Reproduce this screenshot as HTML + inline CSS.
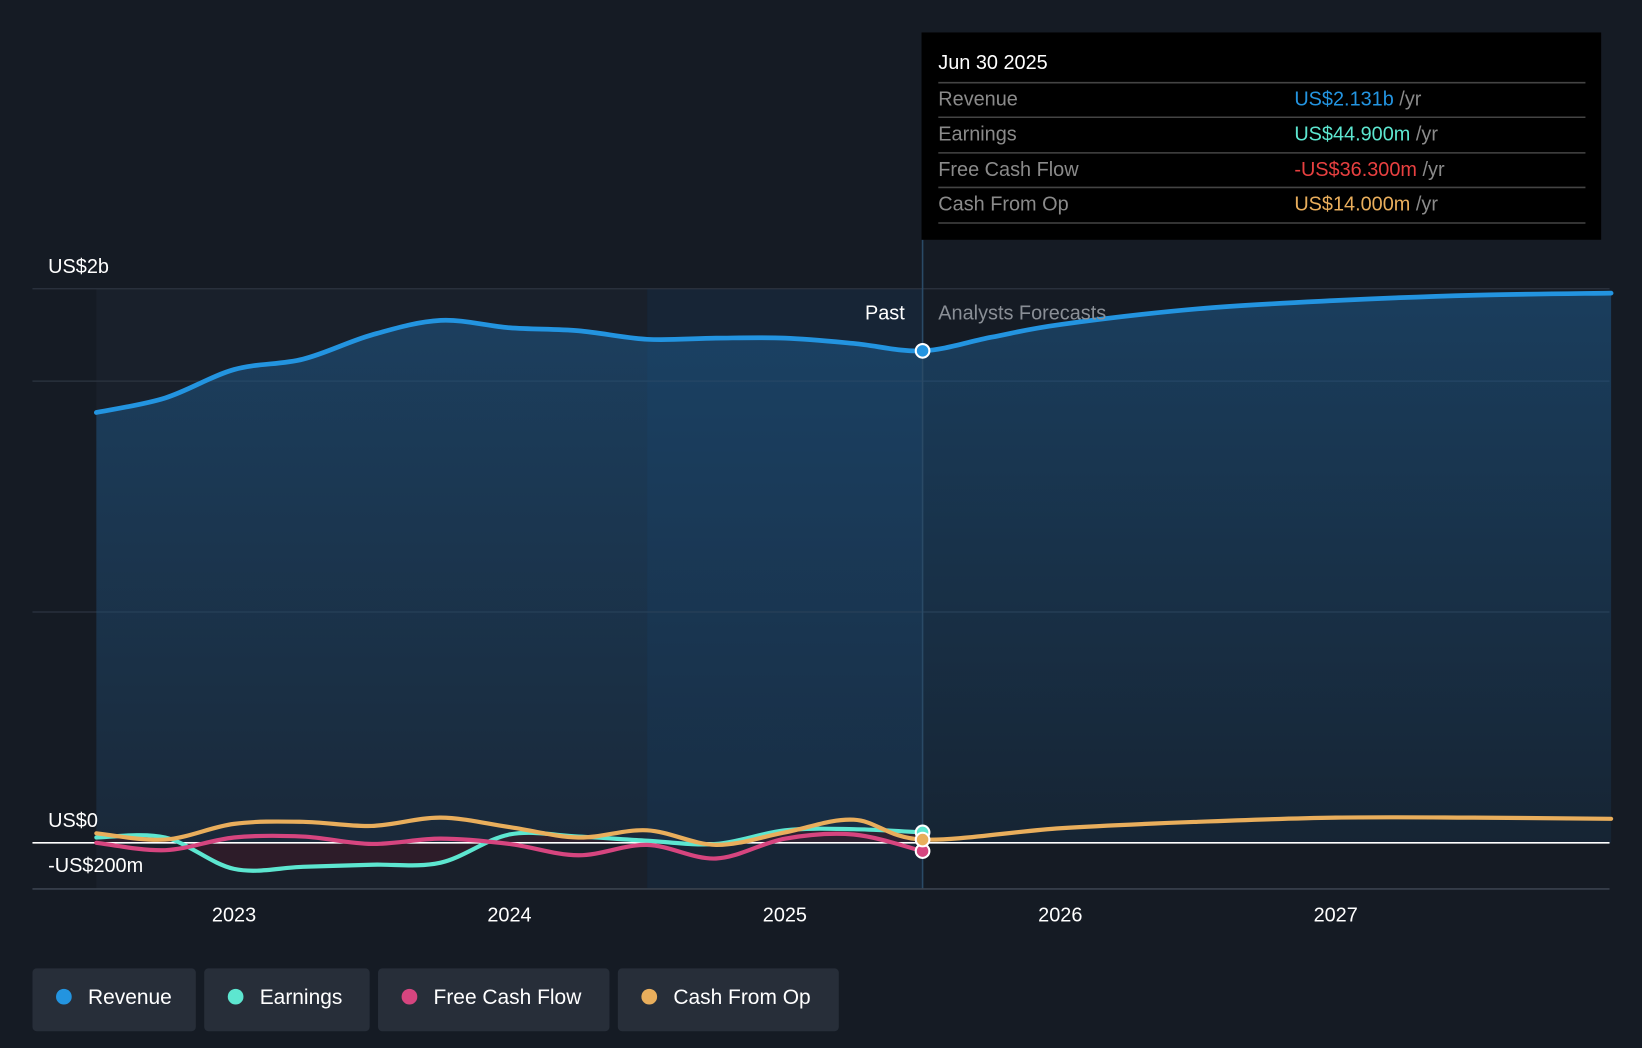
<!DOCTYPE html>
<html><head><meta charset="utf-8"><style>
html,body{margin:0;padding:0;background:#151b24;}
svg{display:block;font-family:"Liberation Sans",sans-serif;}
</style></head><body>
<svg id="chart" width="1642" height="1048" viewBox="0 0 1568 1001" preserveAspectRatio="none" xmlns="http://www.w3.org/2000/svg">
<defs>
<linearGradient id="revFill" x1="0" y1="0" x2="0" y2="1"><stop offset="0" stop-color="#1e5a8c" stop-opacity="0.55"/><stop offset="1" stop-color="#1e5a8c" stop-opacity="0.15"/></linearGradient>
</defs>
<rect x="0" y="0" width="1568" height="1001" fill="#151b24"/>
<g id="bg"></g>
<g id="grid"></g>
<g id="series"></g>
<g id="axes"></g>
<g id="tooltip">
<rect x="880" y="31" width="649" height="198" fill="#000"/>
<text x="896" y="66" fill="#fff" font-size="19">Jun 30 2025</text>
<line x1="896" y1="79" x2="1514" y2="79" stroke="#444" stroke-width="1.5"/>
<text x="896" y="101" fill="#8a8a8a" font-size="19">Revenue</text>
<text x="1236" y="101" font-size="19"><tspan fill="#2394e0">US$2.131b</tspan><tspan fill="#8a8a8a"> /yr</tspan></text>
<line x1="896" y1="112" x2="1514" y2="112" stroke="#444" stroke-width="1.5"/>
<text x="896" y="134" fill="#8a8a8a" font-size="19">Earnings</text>
<text x="1236" y="134" font-size="19"><tspan fill="#5de6d0">US$44.900m</tspan><tspan fill="#8a8a8a"> /yr</tspan></text>
<line x1="896" y1="146" x2="1514" y2="146" stroke="#444" stroke-width="1.5"/>
<text x="896" y="168" fill="#8a8a8a" font-size="19">Free Cash Flow</text>
<text x="1236" y="168" font-size="19"><tspan fill="#e84040">-US$36.300m</tspan><tspan fill="#8a8a8a"> /yr</tspan></text>
<line x1="896" y1="179" x2="1514" y2="179" stroke="#444" stroke-width="1.5"/>
<text x="896" y="201" fill="#8a8a8a" font-size="19">Cash From Op</text>
<text x="1236" y="201" font-size="19"><tspan fill="#e9ae5c">US$14.000m</tspan><tspan fill="#8a8a8a"> /yr</tspan></text>
<line x1="896" y1="213" x2="1514" y2="213" stroke="#444" stroke-width="1.5"/>
</g>
<g id="legend"></g>
</svg>
<script>
const revT=[2022.5,2022.75,2023,2023.25,2023.5,2023.75,2024,2024.25,2024.5,2024.75,2025,2025.25,2025.5,2025.75,2026,2026.5,2027,2027.5,2028];
const revV=[1864,1927,2050,2095,2200,2263,2231,2218,2181,2186,2186,2163,2131,2190,2245,2313,2349,2372,2381];
const pastT=[2022.5,2022.75,2023,2023.25,2023.5,2023.75,2024,2024.25,2024.5,2024.75,2025,2025.25,2025.5];
const earnV=[23,23,-113,-104,-95,-86,36,27,9,-5,54,59,45];
const fcfV=[0,-32,23,27,-5,18,-5,-54,-9,-68,18,36,-36];
const cfoT=[2022.5,2022.75,2023,2023.25,2023.5,2023.75,2024,2024.25,2024.5,2024.75,2025,2025.25,2025.5,2026,2026.5,2027,2027.5,2028];
const cfoV=[41,14,82,91,73,109,68,23,54,-9,45,100,14,63,91,109,109,104];
const yTicks=[{v:2400,l:"US$2b"},{v:0,l:"US$0"},{v:-200,l:"-US$200m"}];
const xTicks=[2023,2024,2025,2026,2027];
const legendItems=[["Revenue","#2394e0"],["Earnings","#5de6d0"],["Free Cash Flow","#d6457f"],["Cash From Op","#e9ae5c"]];

const NS="http://www.w3.org/2000/svg";
const X=t=>92+(t-2022.5)*263;
const Y=v=>805-v*0.2205;
function el(tag,attrs,parent){const e=document.createElementNS(NS,tag);for(const k in attrs)e.setAttribute(k,attrs[k]);parent.appendChild(e);return e;}
function path(ts,vs){const p=ts.map((t,i)=>[X(t),Y(vs[i])]);let d="M"+p[0][0]+","+p[0][1];
for(let i=0;i<p.length-1;i++){const p0=p[i-1]||p[i],p1=p[i],p2=p[i+1],p3=p[i+2]||p2;
d+=" C"+(p1[0]+(p2[0]-p0[0])/6)+","+(p1[1]+(p2[1]-p0[1])/6)+" "+(p2[0]-(p3[0]-p1[0])/6)+","+(p2[1]-(p3[1]-p1[1])/6)+" "+p2[0]+","+p2[1];}return d;}
const bg=document.getElementById('bg');
let r=el('rect',{x:X(2022.5),y:Y(2400),width:X(2024.5)-X(2022.5),height:Y(-200)-Y(2400),fill:"#19202b"},bg);

r=el('rect',{x:X(2024.5),y:Y(2400),width:X(2025.5)-X(2024.5),height:Y(-200)-Y(2400),fill:"#172536"},bg);

const grid=document.getElementById('grid');
[2400,2000,1000].forEach(v=>{const l=el('line',{x1:31,x2:1537,y1:Y(v),y2:Y(v),stroke:"#2c3440","stroke-width":1.2},grid);
});
const s=document.getElementById('series');
const area=el('path',{d:path(revT,revV)+" L"+X(2028)+","+Y(0)+" L"+X(2022.5)+","+Y(0)+" Z",fill:"url(#revFill)"},s);

const fa=el('path',{d:path(pastT,earnV)+" L"+X(2025.5)+","+Y(0)+" L"+X(2022.5)+","+Y(0)+" Z",fill:"#3a1a28",opacity:0.6},s);

let vl=el('line',{x1:X(2025.5),x2:X(2025.5),y1:229,y2:Y(-200),stroke:"#2a4a66","stroke-width":1.5},s);

let zl=el('line',{x1:31,x2:1537,y1:Y(0),y2:Y(0),stroke:"#ffffff","stroke-width":1.5},s);

const lines=[["revenue-line",revT,revV,"#2394e0",4.5],["earnings-line",pastT,earnV,"#5de6d0",4],["fcf-line",pastT,fcfV,"#d6457f",4],["cfo-line",cfoT,cfoV,"#e9ae5c",4]];
lines.forEach(([n,t,v,c,w])=>{const p=el('path',{d:path(t,v),fill:"none",stroke:c,"stroke-width":w,"stroke-linecap":"round"},s);
});
[[revV[12],"#2394e0"],[earnV[12],"#5de6d0"],[fcfV[12],"#d6457f"],[cfoV[12],"#e9ae5c"]].forEach(([v,c])=>{
const d=el('circle',{cx:X(2025.5),cy:Y(v),r:6.5,fill:c,stroke:"#fff","stroke-width":2},s);
});
const ax=document.getElementById('axes');
let bl=el('line',{x1:31,x2:1537,y1:Y(-200),y2:Y(-200),stroke:"#3a424e","stroke-width":1.5},ax);

yTicks.forEach(o=>{const yy=o.v==2400?Y(2400)-15:o.v==0?Y(0)-15:Y(-200)-16;
const t=el('text',{x:46,y:yy,fill:"#fff","font-size":19},ax);t.textContent=o.l;
});
xTicks.forEach(v=>{const t=el('text',{x:X(v),y:880,fill:"#fff","font-size":19,"text-anchor":"middle"},ax);t.textContent=v;
});
let t=el('text',{x:864,y:305,fill:"#fff","font-size":19,"text-anchor":"end"},ax);t.textContent="Past";

t=el('text',{x:896,y:305,fill:"#8a8f96","font-size":19},ax);t.textContent="Analysts Forecasts";

const lg=document.getElementById('legend');
const widths=[156,158,221,211];let lx=31;
legendItems.forEach(([n,c],i)=>{const g=el('g',{},lg);

el('rect',{x:lx,y:925,width:widths[i],height:60,rx:4,fill:"#272e39"},g);
el('circle',{cx:lx+30,cy:952,r:7.5,fill:c},g);
const tt=el('text',{x:lx+53,y:959,fill:"#fff","font-size":20},g);tt.textContent=n;
lx+=widths[i]+8;});
</script>
</body></html>
